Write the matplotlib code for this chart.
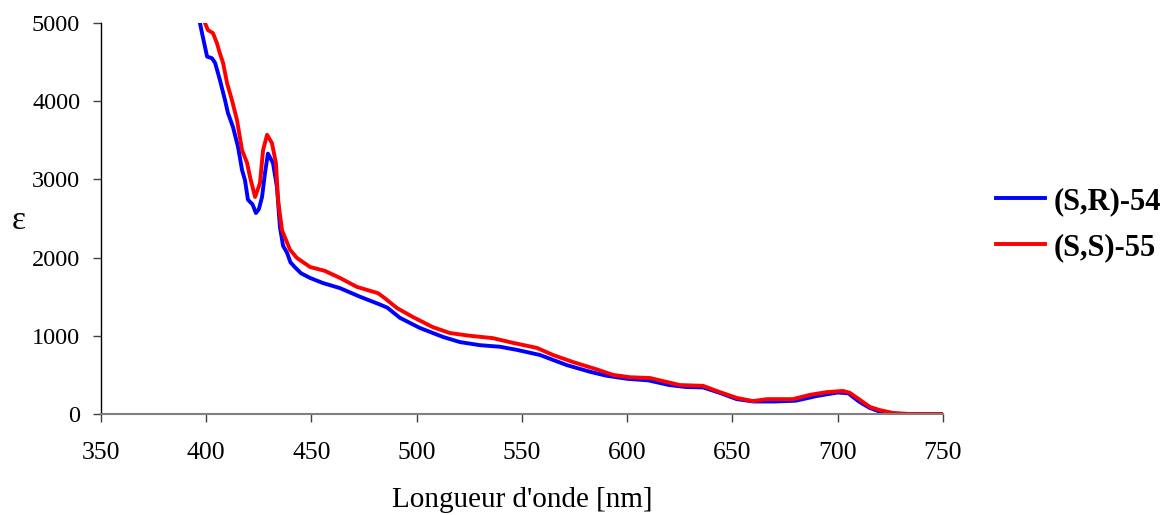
import matplotlib
matplotlib.use("Agg")
import matplotlib.pyplot as plt

plt.rcParams['font.family'] = ['Liberation Serif', 'DejaVu Serif']

# Absorption spectra: wavelength (nm) vs molar extinction coefficient
wl_sr54 = [396.0, 397.0, 398.0, 400.4, 402.7, 404.2, 406.5, 408.9, 410.3, 412.7, 415.1,
           417.0, 418.4, 419.8, 422.0, 423.6, 425.0, 426.5, 427.9, 429.3, 431.7, 433.6,
           435.0, 436.5, 438.4, 440.0, 442.0, 445.0, 449.3, 455.4, 463.5, 473.0, 482.5,
           486.0, 492.0, 501.5, 512.5, 520.5, 530.0, 539.5, 547.6, 558.5, 571.3, 582.3,
           590.0, 600.0, 610.0, 620.0, 628.0, 636.0, 644.0, 652.0, 660.0, 670.0, 680.0,
           690.0, 700.0, 705.0, 710.0, 715.0, 720.0, 725.0, 730.0, 740.0, 750.0]
eps_sr54 = [5200, 5000, 4870, 4570, 4550, 4490, 4270, 4015, 3850, 3670, 3415,
            3120, 2990, 2740, 2680, 2570, 2620, 2775, 3080, 3330, 3210, 2900,
            2390, 2150, 2060, 1940, 1880, 1800, 1740, 1675, 1610, 1500, 1400,
            1360, 1230, 1100, 985, 920, 880, 860, 820, 755, 625, 540,
            490, 450, 430, 370, 345, 340, 270, 190, 160, 160, 170,
            230, 275, 265, 160, 80, 30, 10, 0, 0, 0]

wl_ss55 = [398.5, 399.4, 400.8, 403.2, 405.1, 406.5, 408.0, 409.9, 412.2, 414.6, 417.0,
           419.4, 420.8, 423.2, 425.5, 427.0, 428.9, 431.2, 433.1, 434.1, 436.0, 439.8,
           443.1, 449.3, 456.4, 463.5, 471.6, 481.6, 484.9, 490.6, 498.2, 507.7, 515.8,
           525.3, 536.2, 545.7, 557.1, 564.7, 574.2, 585.6, 593.2, 601.3, 610.8, 620.3,
           625.0, 636.0, 644.0, 652.1, 659.7, 666.3, 678.7, 686.8, 694.9, 702.5, 705.8,
           710.6, 715.3, 720.0, 726.3, 734.3, 750.0]
eps_ss55 = [5100, 5000, 4910, 4870, 4740, 4610, 4490, 4230, 4015, 3760, 3375,
            3210, 3030, 2775, 2950, 3375, 3570, 3465, 3210, 2740, 2350, 2100,
            1995, 1880, 1830, 1740, 1625, 1545, 1480, 1355, 1240, 1110, 1035,
            1000, 970, 910, 845, 755, 665, 570, 500, 470, 460, 400,
            370, 360, 280, 205, 165, 190, 190, 245, 280, 295, 270,
            180, 90, 50, 13, 0, 0]

labels = ['(S,R)-54', '(S,S)-55']
colors = ['#0000ff', '#ff0000']
x_ticks = [350, 400, 450, 500, 550, 600, 650, 700, 750]
y_ticks = [0, 1000, 2000, 3000, 4000, 5000]

fig = plt.figure(figsize=(11.63, 5.15), dpi=100)
ax = fig.add_axes([101 / 1163, 101 / 515, 842 / 1163, 391 / 515])

ax.plot(wl_sr54, eps_sr54, color=colors[0], lw=2.8, label=labels[0])
ax.plot(wl_ss55, eps_ss55, color=colors[1], lw=2.8, label=labels[1])

ax.set_xlim(350, 750)
ax.set_ylim(0, 5000)
ax.set_xticks(x_ticks)
ax.set_yticks(y_ticks)

for side in ('top', 'right'):
    ax.spines[side].set_visible(False)
ax.spines['left'].set_color('#000000')
ax.spines['bottom'].set_color('#808080')
ax.spines['left'].set_linewidth(1.0)
ax.spines['bottom'].set_linewidth(1.5)

ax.tick_params(axis='x', direction='out', length=6, width=1.0, color='#404040',
               labelsize=18.5, pad=14)
ax.tick_params(axis='y', direction='out', length=6, width=1.0, color='#404040',
               labelsize=17.5, pad=9)

ax.set_xlabel("Longueur d'onde [nm]", fontsize=21, labelpad=17)
fig.text(19 / 1163, 1 - 221 / 515, 'ε', fontsize=24, ha='center', va='center')

leg = fig.legend(loc='upper left', bbox_to_anchor=(996 / 1163, 1 - 187 / 515),
                 frameon=False, prop={'weight': 'bold', 'size': 22},
                 handlelength=1.6, handletextpad=0.28, labelspacing=0.55,
                 borderpad=0, borderaxespad=0)
for line in leg.get_lines():
    line.set_linewidth(2.8)

fig.savefig('out.png', dpi=100)
